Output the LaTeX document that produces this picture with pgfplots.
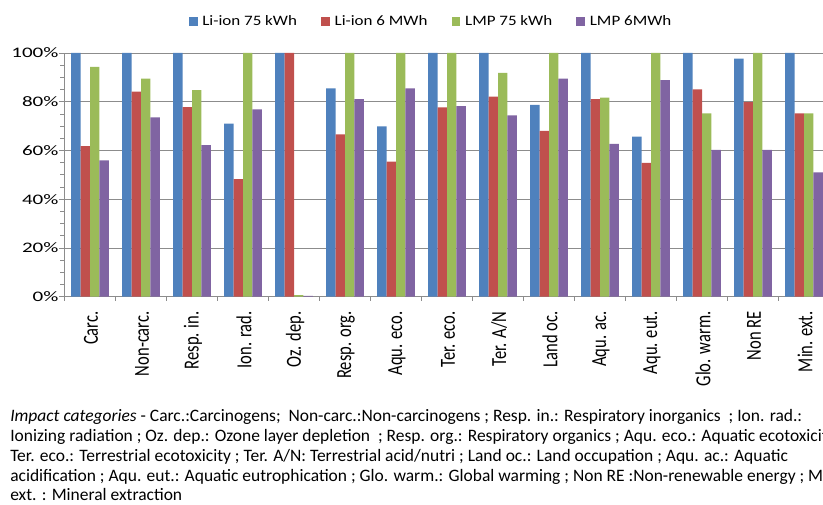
\documentclass[border=0pt]{standalone}
\usepackage{fontspec}
\setmainfont{Carlito}
\usepackage{graphicx}
\usepackage{pgfplots}
\usepackage{pgfplotstable}
\pgfplotsset{compat=1.18}
\definecolor{cb}{HTML}{4F81BD}
\definecolor{cr}{HTML}{C0504D}
\definecolor{cg}{HTML}{9BBB59}
\definecolor{cp}{HTML}{8064A2}
\definecolor{gridc}{HTML}{8C8C8C}
\newcommand\xl[1]{\scalebox{1}[1.3]{#1}}
\newcommand\legtxt[1]{\scalebox{1.18}[1]{#1}}
\pgfplotstableread{
x a b c d
0 100 61.8 94.3 55.9
1 100 84.1 89.5 73.6
2 100 77.8 84.8 62.2
3 71.0 48.2 100 76.9
4 100 100 0.7 0.3
5 85.5 66.6 100 81.1
6 69.9 55.4 100 85.5
7 100 77.7 100 78.2
8 100 82.1 91.8 74.4
9 78.7 68.0 100 89.5
10 100 81.1 81.7 62.7
11 65.7 54.9 100 88.9
12 100 85.1 75.2 60.2
13 97.7 79.8 100 60.2
14 100 75.2 75.2 51.0
}\data
\begin{document}
\begin{tikzpicture}
\useasboundingbox (0,0) rectangle (617.25pt,378.75pt);
\clip (0,0) rectangle (617.25pt,378.75pt);
\begin{axis}[
  at={(48.375pt,156.2pt)}, anchor=south west,
  scale only axis, width=573.75pt, height=182.8pt,
  xmin=-0.5, xmax=14.5, ymin=0, ymax=100,
  ybar=0pt, bar width=7.05pt,
  axis x line*=bottom, axis y line*=left,
  axis line style={draw=gridc, line width=0.6pt},
  ymajorgrids, grid style={draw=gridc, line width=0.6pt},
  ytick={0,20,...,100}, minor ytick={0,5,...,100},
  yticklabel={\scalebox{1.45}[1]{\pgfmathprintnumber{\tick}\%}},
  /pgf/number format/assume math mode=true,
  xtick={0,...,14},
  xticklabels={\xl{Carc.},\xl{Non-carc.},\xl{Resp. in.},\xl{Ion. rad.},\xl{Oz. dep.},\xl{Resp. org.},\xl{Aqu. eco.},\xl{Ter. eco.},\xl{Ter. A/N},\xl{Land oc.},\xl{Aqu. ac.},\xl{Aqu. eut.},\xl{Glo. warm.},\xl{Non RE},\xl{Min. ext.}},
  minor xtick={-0.5,0.5,...,14.5},
  tick align=outside,
  major tick length=3.75pt, minor tick length=3pt,
  tick style={draw=gridc, line width=0.6pt},
  major x tick style={draw=none},
  y tick label style={font=\fontsize{10.9}{12}\selectfont, xshift=2.75pt},
  x tick label style={font=\fontsize{12.4}{14}\selectfont, yshift=-3.75pt, xshift=0.8pt, rotate=90, anchor=east},
  legend columns=4,
  legend style={at={(0.4778,1.128)}, anchor=center, draw=none, fill=none,
    font=\fontsize{10.8}{12}\selectfont,
    nodes={inner sep=0pt},
    /tikz/every odd column/.append style={column sep=3.6pt},
    /tikz/every even column/.append style={column sep=18pt}},
  legend image code/.code={\fill[#1] (0pt,-3.3pt) rectangle (6.6pt,3.3pt);},
]
\addplot[fill=cb, draw=none] table[x=x,y=a]{\data};
\addplot[fill=cr, draw=none] table[x=x,y=b]{\data};
\addplot[fill=cg, draw=none] table[x=x,y=c]{\data};
\addplot[fill=cp, draw=none] table[x=x,y=d]{\data};
\legend{\legtxt{Li-ion 75 kWh}, \legtxt{Li-ion 6 MWh}, \legtxt{LMP 75 kWh}, \legtxt{LMP 6MWh}}
\end{axis}
\begin{scope}[every node/.style={anchor=base west, inner sep=0pt, font=\fontsize{13.1}{15}\selectfont}]
\node at (7.5pt,62.25pt) {\textit{Impact categories} - Carc.:Carcinogens;\ \ Non-carc.:Non-carcinogens ; Resp. in.: Respiratory inorganics\ \ ; Ion. rad.:};
\node at (7.5pt,47.25pt) {Ionizing radiation ; Oz. dep.: Ozone layer depletion\ \ ; Resp. org.: Respiratory organics ; Aqu. eco.: Aquatic ecotoxicity ;};
\node at (7.5pt,32.25pt) {Ter. eco.: Terrestrial ecotoxicity ; Ter. A/N: Terrestrial acid/nutri ; Land oc.: Land occupation ; Aqu. ac.: Aquatic};
\node at (7.5pt,17.25pt) {acidification ; Aqu. eut.: Aquatic eutrophication ; Glo. warm.: Global warming ; Non RE :Non-renewable energy ; Min.};
\node at (7.5pt,3.2pt) {ext. : Mineral extraction};
\end{scope}
\end{tikzpicture}
\end{document}
